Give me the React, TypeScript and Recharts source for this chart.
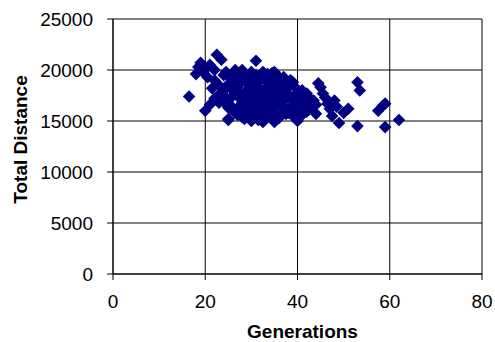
import { ScatterChart, Scatter, XAxis, YAxis, CartesianGrid } from 'recharts'

// Generations per run (x) and total distance (y)
const generations = [
  16.5, 18, 18.5, 19, 19.5, 20, 20, 20.5, 21, 21, 21.5, 22, 22, 22, 22.5, 23, 23, 23, 23.5,
  24, 24, 24, 24.5, 25, 25, 25, 25, 25.5, 26, 26, 26, 26, 26.5, 26.5, 27, 27, 27, 27, 27.5,
  27.5, 28, 28, 28, 28, 28.5, 28.5, 29, 29, 29, 29, 29.5, 29.5, 29.5, 30, 30, 30, 30, 30,
  30.5, 30.5, 31, 31, 31, 31, 31, 31.5, 31.5, 31.5, 32, 32, 32, 32, 32.5, 32.5, 33, 33, 33,
  33, 33.5, 33.5, 33.5, 34, 34, 34, 34, 34.5, 34.5, 35, 35, 35, 35, 35.5, 35.5, 35.5, 36,
  36, 36, 36.5, 36.5, 37, 37, 37, 37, 37.5, 38, 38, 38, 38.5, 39, 39, 39, 39.5, 40, 40, 40,
  40.5, 41, 41, 41.5, 42, 42, 42.5, 43, 43.5, 44, 44, 44.5, 45, 45.5, 46, 46.5, 47, 47.5,
  48, 48.5, 49, 50, 51, 53, 53.5, 53, 57.5, 58.5, 59, 59, 62,
  24, 25.5, 26.5, 27.5, 28.5, 29.5, 30.5, 31.5, 32.5, 33, 34, 35, 36, 37, 38, 38.5, 39.5,
  40.5, 41, 24.5, 25, 27, 28, 29, 30, 31, 32, 33, 34, 35, 36, 37, 39, 40, 42, 43, 26, 30,
  28.5, 32.5, 34.5, 36.5,
]
const totalDistance = [
  17400, 19600, 20300, 20700, 19800, 20100, 16000, 19300, 20500, 16600, 18200, 17200, 19000,
  20000, 21500, 18500, 17600, 16800, 21000, 16900, 19500, 18000, 18200, 15200, 17000, 18600,
  15100, 19200, 18000, 16300, 17500, 19000, 20000, 15800, 17500, 15600, 18300, 19600, 18800,
  16500, 16800, 19500, 17600, 20000, 15200, 18900, 17900, 16100, 16700, 19200, 18600, 17300,
  15400, 15000, 17200, 19800, 18400, 16000, 16500, 17800, 20900, 18300, 15600, 17000, 19500,
  17600, 16300, 15100, 19200, 16200, 18100, 15600, 14900, 17400, 18000, 17000, 16300, 15200,
  19600, 15400, 18400, 16600, 18700, 17800, 19100, 17300, 16000, 15800, 19800, 17300, 14900,
  16900, 18200, 19000, 15300, 17700, 18500, 16400, 17000, 18900, 17000, 16300, 19300, 15700,
  18300, 16200, 17300, 17400, 15500, 18800, 17100, 16700, 17800, 15000, 16600, 16300, 17200,
  15600, 16000, 16800, 15900, 17300, 16200, 17000, 15700, 16600, 18700, 18300, 17700, 17300,
  16700, 16200, 15500, 17000, 16400, 14800, 15800, 16200, 18800, 18000, 14500, 16000, 16500,
  16700, 14400, 15100,
  17500, 16200, 18600, 17200, 16200, 18200, 19200, 18800, 16800, 19000, 15700, 16400, 19300,
  17700, 15800, 19000, 18300, 17500, 18000, 19800, 16300, 16100, 15400, 15700, 15600, 16600,
  17500, 17600, 16200, 18600, 16800, 15900, 16300, 16100, 17700, 16800, 18500, 18900, 17000,
  19800, 19700, 18300,
]

const xTicks = [0, 20, 40, 60, 80]
const yTicks = [0, 5000, 10000, 15000, 20000, 25000]

const points = generations.map((g, i) => ({ g, d: totalDistance[i] }))

const NAVY = '#000080'
const FONT = '"Liberation Sans", Arial, sans-serif'

function Diamond(props: any) {
  const { cx, cy } = props
  if (cx == null || cy == null) return null
  const r = 6.3
  return (
    <polygon
      points={`${cx},${cy - r} ${cx + r},${cy} ${cx},${cy + r} ${cx - r},${cy}`}
      fill={NAVY}
    />
  )
}

function XTitle(props: any) {
  const vb = props.viewBox
  return (
    <text
      x={vb.x + vb.width / 2 + 5}
      y={vb.y + vb.height - 4}
      textAnchor="middle"
      fontFamily={FONT}
      fontWeight="bold"
      fontSize={19}
      fill="#000"
    >
      Generations
    </text>
  )
}

function YTitle(props: any) {
  const vb = props.viewBox
  const cx = 27
  const cy = vb.y + vb.height / 2 - 7
  return (
    <text
      x={cx}
      y={cy}
      transform={`rotate(-90, ${cx}, ${cy})`}
      textAnchor="middle"
      fontFamily={FONT}
      fontWeight="bold"
      fontSize={19}
      fill="#000"
    >
      Total Distance
    </text>
  )
}

export default function App() {
  return (
    <div style={{ position: 'absolute', left: 0, top: 0, width: 495, height: 342, background: '#fff' }}>
      <ScatterChart width={495} height={342} margin={{ top: 19, right: 13, bottom: 0, left: 0 }}>
        <CartesianGrid stroke="#000" strokeWidth={1} />
        <XAxis
          type="number"
          dataKey="g"
          domain={[0, 80]}
          ticks={xTicks}
          height={68}
          tickSize={6}
          tickMargin={15}
          stroke="#000"
          tick={{ fill: '#000', fontSize: 19, fontFamily: FONT }}
          label={<XTitle />}
        />
        <YAxis
          type="number"
          dataKey="d"
          domain={[0, 25000]}
          ticks={yTicks}
          width={113}
          tickSize={6}
          tickMargin={14}
          stroke="#000"
          tick={{ fill: '#000', fontSize: 19, fontFamily: FONT }}
          label={<YTitle />}
        />
        <Scatter data={points} shape={<Diamond />} isAnimationActive={false} />
      </ScatterChart>
    </div>
  )
}
